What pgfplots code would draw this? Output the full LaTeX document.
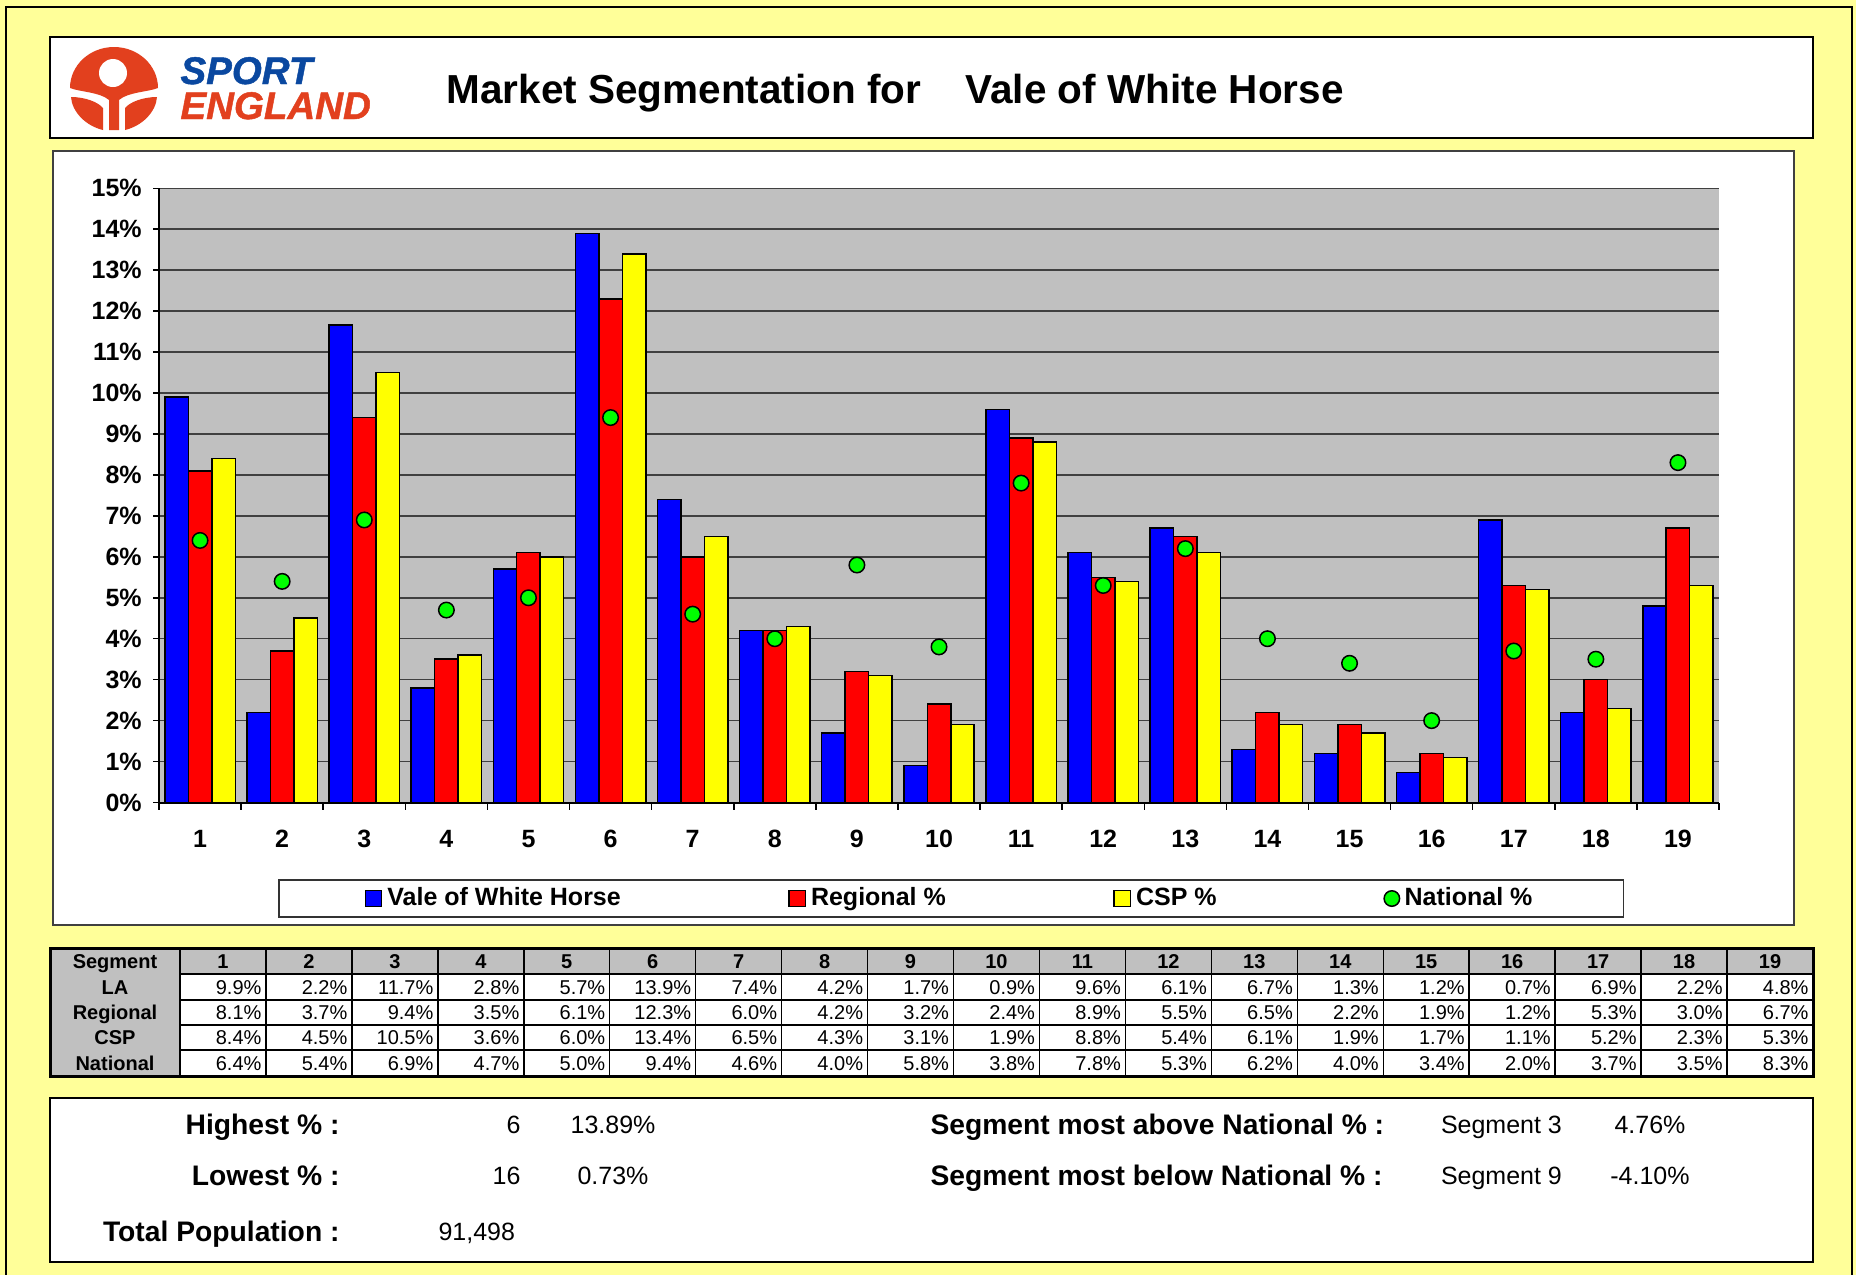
\documentclass[border=0pt]{standalone}
\usepackage{fontspec}
\setmainfont{Liberation Sans}
\newfontface\logofont{Liberation Sans Bold Italic}[FakeBold=1.2]
\usepackage{pgfplots}
\usepackage{pgfplotstable}
\pgfplotsset{compat=1.18}
\definecolor{bgyellow}{HTML}{FFFF99}
\definecolor{plotgray}{HTML}{C0C0C0}
\definecolor{segblue}{HTML}{0000FF}
\definecolor{segred}{HTML}{FF0000}
\definecolor{segyellow}{HTML}{FFFF00}
\definecolor{natgreen}{HTML}{00FF00}
\definecolor{logored}{HTML}{E2401E}
\definecolor{logoblue}{HTML}{0A48A0}
\pgfplotsset{
  barlegend/.style={legend image code/.code={\draw[##1,line width=0.5pt] (0pt,-3.3pt) rectangle (6.6pt,3.3pt);}},
  marklegend/.style={legend image code/.code={\draw[##1] plot coordinates {(3.3pt,0pt)};}},
}

\pgfplotstableread{
seg la reg csp nat
1 9.9 8.1 8.4 6.4
2 2.2 3.7 4.5 5.4
3 11.66 9.4 10.5 6.9
4 2.8 3.5 3.6 4.7
5 5.7 6.1 6.0 5.0
6 13.89 12.3 13.4 9.4
7 7.4 6.0 6.5 4.6
8 4.2 4.2 4.3 4.0
9 1.7 3.2 3.1 5.8
10 0.9 2.4 1.9 3.8
11 9.6 8.9 8.8 7.8
12 6.1 5.5 5.4 5.3
13 6.7 6.5 6.1 6.2
14 1.3 2.2 1.9 4.0
15 1.2 1.9 1.7 3.4
16 0.73 1.2 1.1 2.0
17 6.9 5.3 5.2 3.7
18 2.2 3.0 2.3 3.5
19 4.8 6.7 5.3 8.3
}\segdata

\begin{document}
\begin{tikzpicture}
% ---------- decorations in pixel units (y downwards) ----------
\begin{scope}[x=0.4pt,y=-0.4pt]
\useasboundingbox (0,0) rectangle (1856,1275);
\fill[bgyellow] (0,0) rectangle (1856,1275);
\draw[line width=0.8pt] (6,1280) -- (6,7) -- (1852,7) -- (1852,1280);
% title box
\filldraw[fill=white,draw=black,line width=1.1pt] (50,37) rectangle (1813,138);
% logo
\fill[logored] (70,88) arc[start angle=180,end angle=360,x radius=44,y radius=41]
   .. controls (148,92) and (128,92) .. (119,100) -- (119,130) -- (109,130) -- (109,100)
   .. controls (100,92) and (80,92) .. (70,88) -- cycle;
\fill[white] (113,73) circle [radius=14];
\fill[logored] (71,97) .. controls (85,97) and (98,102) .. (103,108) -- (103,130)
   .. controls (86,126) and (72,112) .. (71,97) -- cycle;
\fill[logored] (157,97) .. controls (143,97) and (130,102) .. (125,108) -- (125,130)
   .. controls (142,126) and (156,112) .. (157,97) -- cycle;
\node[anchor=base west,inner sep=0pt,text=logoblue,font=\fontsize{15.4}{17}\logofont] at (180,84) {SPORT};
\node[anchor=base west,inner sep=0pt,text=logored,font=\fontsize{15.4}{17}\logofont] at (180,119) {ENGLAND};
% title
\node[anchor=base west,inner sep=0pt,font=\fontsize{16.2}{19}\selectfont\bfseries] at (446,103) {Market Segmentation for};
\node[anchor=base west,inner sep=0pt,font=\fontsize{16.2}{19}\selectfont\bfseries] at (965,103) {Vale of White Horse};
% chart box
\filldraw[fill=white,draw=black!75,line width=0.6pt] (53,151) rectangle (1794,925);
\end{scope}

% ---------- chart ----------
\begin{axis}[
  at={(63.6pt,-321pt)}, anchor=south west,
  width=624pt, height=245.7pt, scale only axis,
  xmin=0.5, xmax=19.5, ymin=0, ymax=15,
  axis background/.style={fill=plotgray},
  axis lines=left, axis line style={-, black, line width=0.8pt},
  ytick={0,1,...,15},
  ymajorgrids, grid style={black!75, line width=0.6pt},
  xtick={1,...,19}, minor xtick={0.5,1.5,...,19.5},
  tick align=outside,
  major tick length=2.4pt, minor tick length=2.8pt,
  tick style={black, line width=0.6pt},
  major x tick style={draw=none},
  yticklabel={\pgfmathprintnumber{\tick}\%},
  /pgf/number format/assume math mode=true,
  ticklabel style={font=\fontsize{10}{12}\selectfont\bfseries},
  xticklabel shift=5.2pt, yticklabel shift=1pt,
  legend columns=4,
  legend style={at={(0.5077,-0.1563)}, anchor=center, draw=black!80, line width=0.5pt, fill=white,
     font=\fontsize{10}{12}\selectfont\bfseries, inner xsep=34.3pt, inner ysep=1pt,
     cells={anchor=west},
     /tikz/every even column/.append style={column sep=65pt}},
]
\addplot[ybar, bar width=0.286, bar shift=-0.286, fill=segblue, draw=black, line width=0.6pt, barlegend]
  table[x=seg,y=la]{\segdata};
\addlegendentry{Vale of White Horse}
\addplot[ybar, bar width=0.286, bar shift=0, fill=segred, draw=black, line width=0.6pt, barlegend]
  table[x=seg,y=reg]{\segdata};
\addlegendentry{Regional \%}
\addplot[ybar, bar width=0.286, bar shift=0.286, fill=segyellow, draw=black, line width=0.6pt, barlegend]
  table[x=seg,y=csp]{\segdata};
\addlegendentry{CSP \%}
\addplot[only marks, mark=*, mark size=3.1pt, mark options={fill=natgreen, draw=black, line width=0.6pt}, marklegend]
  table[x=seg,y=nat]{\segdata};
\addlegendentry{National \%}
\end{axis}

% ---------- table and summary ----------
\begin{scope}[x=0.4pt,y=-0.4pt]
\fill[plotgray] (50,948) rectangle (1813,974);
\fill[plotgray] (50,974) rectangle (180,1076);
\fill[white] (180,974) rectangle (1813,1076);
\foreach \y in {974,1000,1025,1050} \draw[line width=0.6pt] (180,\y) -- (1813,\y);
\foreach \k in {0,...,18} \draw[line width=0.6pt] ({180+\k*85.947},948) -- ({180+\k*85.947},1076);
\draw[line width=1.2pt] (50,948) rectangle (1813,1076);
\begin{scope}[every node/.style={inner sep=0pt,font=\fontsize{8}{9.6}\selectfont}]
\node[anchor=base,font=\fontsize{8}{9.6}\selectfont\bfseries] at (115,968) {Segment};
\foreach \c in {1,...,19}
  \node[anchor=base,font=\fontsize{8}{9.6}\selectfont\bfseries] at ({180+(\c-0.5)*85.947},968) {\c};
\foreach \lab/\yb/\vals in {
  LA/994/{9.9,2.2,11.7,2.8,5.7,13.9,7.4,4.2,1.7,0.9,9.6,6.1,6.7,1.3,1.2,0.7,6.9,2.2,4.8},
  Regional/1019.5/{8.1,3.7,9.4,3.5,6.1,12.3,6.0,4.2,3.2,2.4,8.9,5.5,6.5,2.2,1.9,1.2,5.3,3.0,6.7},
  CSP/1044.5/{8.4,4.5,10.5,3.6,6.0,13.4,6.5,4.3,3.1,1.9,8.8,5.4,6.1,1.9,1.7,1.1,5.2,2.3,5.3},
  National/1070/{6.4,5.4,6.9,4.7,5.0,9.4,4.6,4.0,5.8,3.8,7.8,5.3,6.2,4.0,3.4,2.0,3.7,3.5,8.3}} {
  \node[anchor=base,font=\fontsize{8}{9.6}\selectfont\bfseries] at (115,\yb) {\lab};
  \foreach \v [count=\c] in \vals
    \node[anchor=base east] at ({180+\c*85.947-4},\yb) {\v\%};
}
\end{scope}
% summary box
\filldraw[fill=white,draw=black,line width=1.1pt] (50,1098) rectangle (1813,1262);
\begin{scope}[every node/.style={inner sep=0pt}]
\node[anchor=base east,font=\fontsize{11.3}{13}\selectfont\bfseries] at (340,1134.6) {Highest \% :};
\node[anchor=base east,font=\fontsize{11.3}{13}\selectfont\bfseries] at (340,1185.5) {Lowest \% :};
\node[anchor=base east,font=\fontsize{11.3}{13}\selectfont\bfseries] at (340,1241) {Total Population :};
\node[anchor=base east,font=\fontsize{10}{12}\selectfont] at (521,1133.5) {6};
\node[anchor=base,font=\fontsize{10}{12}\selectfont] at (613,1133.5) {13.89\%};
\node[anchor=base east,font=\fontsize{10}{12}\selectfont] at (521,1184.4) {16};
\node[anchor=base,font=\fontsize{10}{12}\selectfont] at (613,1184.4) {0.73\%};
\node[anchor=base west,font=\fontsize{10}{12}\selectfont] at (438,1240) {91,498};
\node[anchor=base west,font=\fontsize{11.3}{13}\selectfont\bfseries] at (930,1134.6) {Segment most above National \% :};
\node[anchor=base west,font=\fontsize{11.3}{13}\selectfont\bfseries] at (930,1185.5) {Segment most below National \% :};
\node[anchor=base west,font=\fontsize{10}{12}\selectfont] at (1440.5,1133.5) {Segment 3};
\node[anchor=base west,font=\fontsize{10}{12}\selectfont] at (1440.5,1184.4) {Segment 9};
\node[anchor=base,font=\fontsize{10}{12}\selectfont] at (1650,1133.5) {4.76\%};
\node[anchor=base,font=\fontsize{10}{12}\selectfont] at (1650,1184.4) {-4.10\%};
\end{scope}
\end{scope}
\end{tikzpicture}
\end{document}
